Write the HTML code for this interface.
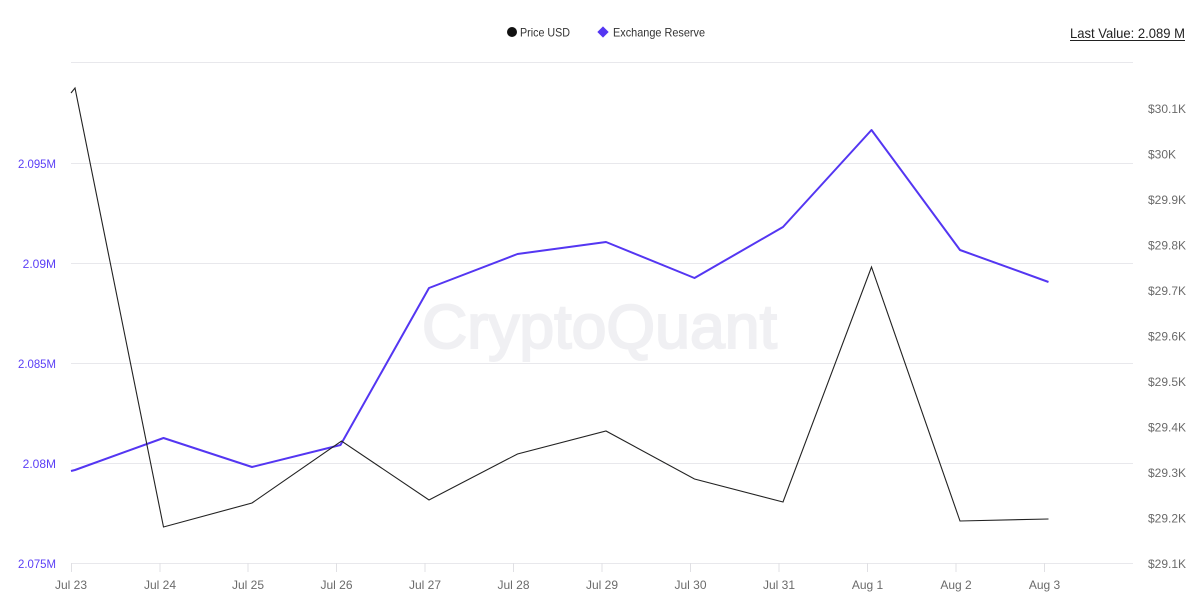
<!DOCTYPE html>
<html>
<head>
<meta charset="utf-8">
<style>
  html,body{margin:0;padding:0;background:#fff;}
  body{width:1200px;height:599px;overflow:hidden;}
  svg{display:block;}
  text{font-family:"Liberation Sans", "DejaVu Sans", sans-serif;}
</style>
</head>
<body>
<svg width="1200" height="599" viewBox="0 0 1200 599" xmlns="http://www.w3.org/2000/svg">
  <rect x="0" y="0" width="1200" height="599" fill="#ffffff"/>

  <!-- watermark -->
  <text x="422" y="348" font-size="62" fill="#f0f0f3" stroke="#f0f0f3" stroke-width="2" textLength="355" lengthAdjust="spacingAndGlyphs">CryptoQuant</text>

  <!-- gridlines -->
  <g stroke="#e8e8ec" stroke-width="1">
    <line x1="71" y1="62.5" x2="1133" y2="62.5"/>
    <line x1="71" y1="163.5" x2="1133" y2="163.5"/>
    <line x1="71" y1="263.5" x2="1133" y2="263.5"/>
    <line x1="71" y1="363.5" x2="1133" y2="363.5"/>
    <line x1="71" y1="463.5" x2="1133" y2="463.5"/>
    <line x1="71" y1="563.5" x2="1133" y2="563.5"/>
  </g>
  <!-- x ticks -->
  <g stroke="#e0e0e4" stroke-width="1">
    <line x1="71.5" y1="563" x2="71.5" y2="572"/>
    <line x1="160" y1="563" x2="160" y2="572"/>
    <line x1="248" y1="563" x2="248" y2="572"/>
    <line x1="336.5" y1="563" x2="336.5" y2="572"/>
    <line x1="425" y1="563" x2="425" y2="572"/>
    <line x1="513.5" y1="563" x2="513.5" y2="572"/>
    <line x1="602" y1="563" x2="602" y2="572"/>
    <line x1="690.5" y1="563" x2="690.5" y2="572"/>
    <line x1="779" y1="563" x2="779" y2="572"/>
    <line x1="867.5" y1="563" x2="867.5" y2="572"/>
    <line x1="956" y1="563" x2="956" y2="572"/>
    <line x1="1044.5" y1="563" x2="1044.5" y2="572"/>
  </g>

  <!-- x labels -->
  <g font-size="12" fill="#6b6b6b" text-anchor="middle">
    <text x="71" y="589">Jul 23</text>
    <text x="160" y="589">Jul 24</text>
    <text x="248" y="589">Jul 25</text>
    <text x="336.5" y="589">Jul 26</text>
    <text x="425" y="589">Jul 27</text>
    <text x="513.5" y="589">Jul 28</text>
    <text x="602" y="589">Jul 29</text>
    <text x="690.5" y="589">Jul 30</text>
    <text x="779" y="589">Jul 31</text>
    <text x="867.5" y="589">Aug 1</text>
    <text x="956" y="589">Aug 2</text>
    <text x="1044.5" y="589">Aug 3</text>
  </g>

  <!-- left axis labels -->
  <g font-size="12" fill="#5b3ff6" text-anchor="end">
    <text x="56" y="168" textLength="38" lengthAdjust="spacingAndGlyphs">2.095M</text>
    <text x="56" y="268">2.09M</text>
    <text x="56" y="368" textLength="38" lengthAdjust="spacingAndGlyphs">2.085M</text>
    <text x="56" y="468">2.08M</text>
    <text x="56" y="568" textLength="38" lengthAdjust="spacingAndGlyphs">2.075M</text>
  </g>

  <!-- right axis labels -->
  <g font-size="12" fill="#6b6b6b" text-anchor="start">
    <text x="1148" y="113">$30.1K</text>
    <text x="1148" y="158.5">$30K</text>
    <text x="1148" y="204">$29.9K</text>
    <text x="1148" y="249.5">$29.8K</text>
    <text x="1148" y="295">$29.7K</text>
    <text x="1148" y="340.5">$29.6K</text>
    <text x="1148" y="386">$29.5K</text>
    <text x="1148" y="431.5">$29.4K</text>
    <text x="1148" y="477">$29.3K</text>
    <text x="1148" y="522.5">$29.2K</text>
    <text x="1148" y="568">$29.1K</text>
  </g>

  <!-- Exchange Reserve -->
  <polyline fill="none" stroke="#5436f2" stroke-width="2" stroke-linejoin="round"
    points="71,471 75,470 163.5,438 252,467 340.5,445 429,288 517.5,254 606,242 694.5,278 783,227 871.5,130 960,250 1048.5,282"/>

  <!-- Price USD -->
  <polyline fill="none" stroke="#222222" stroke-width="1.1" stroke-linejoin="miter"
    points="71,93 75,88 163.5,527 252,503 341.5,441 429,500 517.5,454 606,431 694.5,479 783,502 871.5,267 960,521 1048.5,519"/>

  <!-- legend -->
  <circle cx="512" cy="32" r="5" fill="#111111"/>
  <text x="520" y="36.5" font-size="12" fill="#333333" textLength="50" lengthAdjust="spacingAndGlyphs">Price USD</text>
  <rect x="599" y="28" width="8" height="8" fill="#5436f2" transform="rotate(45 603 32)"/>
  <text x="613" y="36.5" font-size="12" fill="#333333" textLength="92" lengthAdjust="spacingAndGlyphs">Exchange Reserve</text>

  <!-- last value -->
  <text x="1070" y="38" font-size="14" fill="#222222" textLength="115" lengthAdjust="spacingAndGlyphs">Last Value: 2.089 M</text>
  <line x1="1070" y1="40.5" x2="1185" y2="40.5" stroke="#222222" stroke-width="1"/>
</svg>
</body>
</html>
